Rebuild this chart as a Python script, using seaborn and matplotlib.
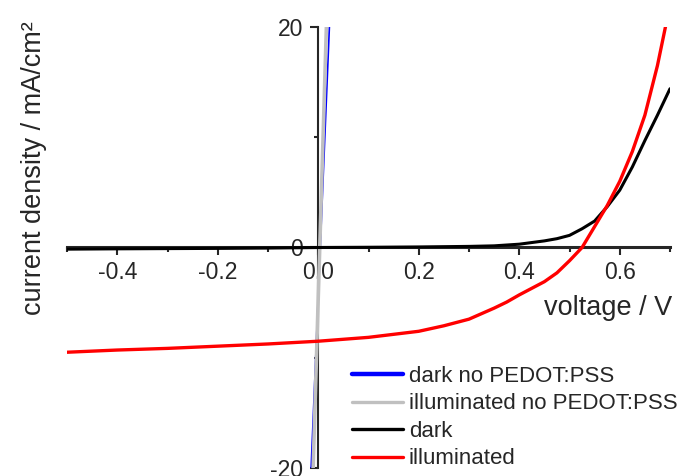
import numpy as np
import pandas as pd
import matplotlib
matplotlib.use("Agg")
import matplotlib.pyplot as plt
from matplotlib.ticker import MultipleLocator, FormatStrFormatter
import seaborn as sns

# ---- data ----
blue_v = [-0.016, 0.004, 0.024]
blue_j = [-22.0, 0.0, 22.0]

gray_v = [-0.0115, 0.003, 0.0175]
gray_j = [-22.0, 0.0, 22.0]

dark_v = [-0.5, -0.4, -0.3, -0.2, -0.1, 0.0, 0.1, 0.2, 0.3, 0.35, 0.4, 0.45,
          0.475, 0.5, 0.525, 0.55, 0.575, 0.6, 0.625, 0.65, 0.675, 0.7]
dark_j = [-0.15, -0.12, -0.1, -0.08, -0.05, 0.0, 0.02, 0.05, 0.1, 0.15, 0.3,
          0.6, 0.8, 1.1, 1.7, 2.4, 3.7, 5.2, 7.3, 9.7, 12.0, 14.4]

ill_v = [-0.5, -0.4, -0.3, -0.2, -0.1, 0.0, 0.1, 0.2, 0.25, 0.3, 0.35, 0.375,
         0.4, 0.425, 0.45, 0.475, 0.5, 0.525, 0.55, 0.575, 0.6, 0.625, 0.65,
         0.675, 0.7]
ill_j = [-9.5, -9.3, -9.15, -8.95, -8.75, -8.5, -8.15, -7.6, -7.1, -6.5, -5.5,
         -4.95, -4.3, -3.7, -3.1, -2.3, -1.2, 0.0, 1.9, 3.8, 6.0, 8.7, 12.0,
         16.5, 22.0]

labels = ["dark no PEDOT:PSS", "illuminated no PEDOT:PSS", "dark", "illuminated"]

sns.set_style("white")
plt.rcParams["font.family"] = ["Liberation Sans", "DejaVu Sans"]
plt.rcParams["axes.unicode_minus"] = False

fig = plt.figure(figsize=(6.8, 4.76), dpi=100)
ax = fig.add_axes([67 / 680, 8 / 476, 603 / 680, 441 / 476])

series = [
    (blue_v, blue_j, "#0000ff", 1.2),
    (gray_v, gray_j, "#c0c0c0", 2.6),
    (dark_v, dark_j, "#000000", 2.2),
    (ill_v, ill_j, "#ff0000", 2.4),
]
for (v, j, c, lw), lab in zip(series, labels):
    df = pd.DataFrame({"v": v, "j": j})
    sns.lineplot(data=df, x="v", y="j", color=c, linewidth=lw, label=lab,
                 sort=False, ax=ax)

ax.set_xlim(-0.5, 0.7)
ax.set_ylim(-20, 20)

for s in ["top", "right"]:
    ax.spines[s].set_visible(False)
ax.spines["left"].set_position(("data", 0))
ax.spines["bottom"].set_position(("data", 0))
ax.spines["bottom"].set_linewidth(2.2)
ax.spines["left"].set_linewidth(1.5)
ax.spines["bottom"].set_zorder(1)
ax.spines["left"].set_zorder(1)

ax.xaxis.set_major_locator(MultipleLocator(0.2))
ax.xaxis.set_minor_locator(MultipleLocator(0.1))
ax.xaxis.set_major_formatter(FormatStrFormatter("%.1f"))
ax.yaxis.set_major_locator(MultipleLocator(20))
ax.yaxis.set_minor_locator(MultipleLocator(10))

ax.tick_params(axis="x", which="major", direction="out", length=6, width=1.5,
               pad=4, labelsize=16.5, bottom=True)
ax.tick_params(axis="x", which="minor", direction="out", length=3.5, width=1.5,
               bottom=True)
ax.tick_params(axis="y", which="major", direction="out", length=6, width=1.5,
               pad=5, labelsize=16.5, left=True)
ax.tick_params(axis="y", which="minor", direction="out", length=3, width=1.5,
               left=True)

ax.set_xlabel("voltage / V", fontsize=19.5)
ax.set_ylabel("current density / mA/cm\u00b2", fontsize=19.5)
ax.xaxis.set_label_coords(0.897, 0.392)
ax.yaxis.set_label_coords(-0.033, 0.68)

leg = ax.legend(loc="upper left", bbox_to_anchor=(352 / 680, 1 - 366 / 476),
                bbox_transform=fig.transFigure, frameon=False, fontsize=16,
                handlelength=2.3, handletextpad=0.25, labelspacing=0.29,
                borderpad=0, borderaxespad=0)
for line, lw in zip(leg.get_lines(), [3.2, 2.4, 2.4, 2.4]):
    line.set_linewidth(lw)

fig.savefig("out.png", dpi=100)
